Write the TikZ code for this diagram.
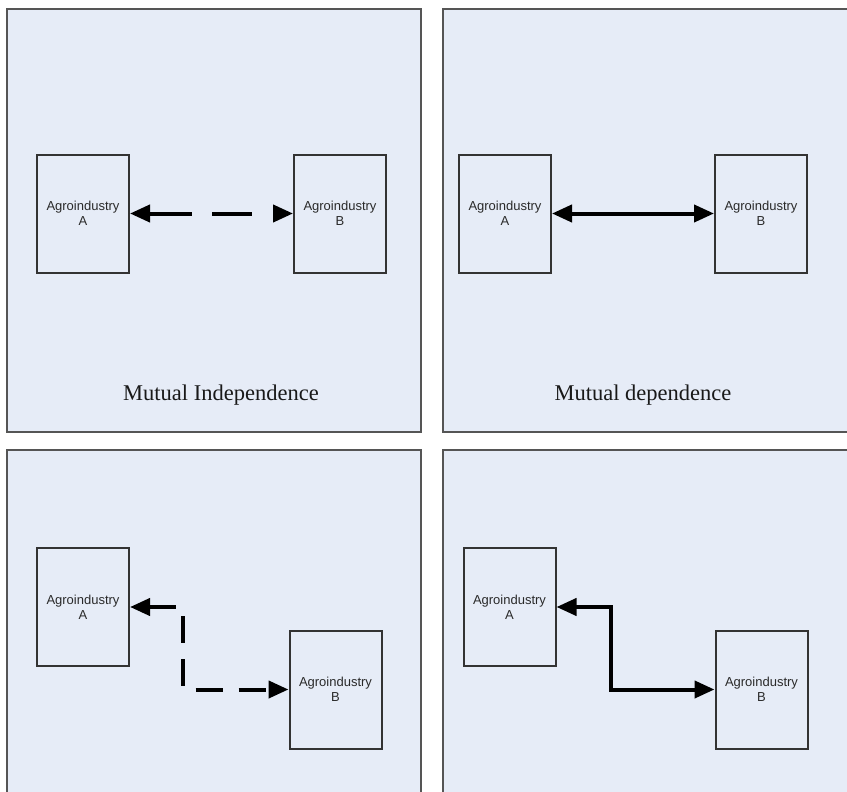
\documentclass[tikz,border=0pt]{standalone}
\usepackage{fontspec}
\setmainfont{Liberation Serif}
\newfontfamily\boxfont{Liberation Sans}
\usetikzlibrary{arrows.meta}
\definecolor{panelfill}{HTML}{E6ECF7}
\definecolor{panelline}{HTML}{555555}
\definecolor{boxline}{HTML}{333333}
\definecolor{boxtext}{HTML}{2A2A2A}
\tikzset{
  panel/.style={draw=panelline, line width=1.6pt, fill=panelfill},
  agbox/.style={draw=boxline, line width=2pt, rectangle, minimum width=92pt, minimum height=118pt,
    inner sep=0pt, align=center, text=boxtext, font=\boxfont\fontsize{13}{15}\selectfont},
  link/.style={line width=4pt, black, {Triangle[length=20pt,width=17pt]}-{Triangle[length=20pt,width=17pt]}},
  caption/.style={font=\fontsize{22.5}{27}\selectfont, text=black!90}
}
\begin{document}
\begin{tikzpicture}[x=1pt,y=-1pt]
\clip (0,0) rectangle (847,792);
\fill[white] (0,0) rectangle (847,792);
% panels
\draw[panel] (7,9) rectangle (421,432);
\draw[panel] (443,9) rectangle (870,432);
\draw[panel] (7,450) rectangle (421,810);
\draw[panel] (443,450) rectangle (870,810);
% panel 1
\node[agbox] (a1) at (83,213.5) {Agroindustry\\A};
\node[agbox] (b1) at (340,213.5) {Agroindustry\\B};
\draw[link, dash pattern=on 43pt off 20pt on 40pt off 30pt] (a1.east) -- (b1.west);
\node[caption] (c1) at (221,395) {Mutual Independence};
% panel 2
\node[agbox] (a2) at (505,213.5) {Agroindustry\\A};
\node[agbox] (b2) at (761,213.5) {Agroindustry\\B};
\draw[link] (a2.east) -- (b2.west);
\node[caption] (c2) at (643,395) {Mutual dependence};
% panel 3
\node[agbox] (a3) at (83,607) {Agroindustry\\A};
\node[agbox] (b3) at (335.5,689.5) {Agroindustry\\B};
\draw[link, dash pattern=on 27pt off 16pt] (a3.east) -- (183,607) -- (183,689.5) -- (b3.west);
% panel 4
\node[agbox] (a4) at (509.5,607) {Agroindustry\\A};
\node[agbox] (b4) at (761.5,689.5) {Agroindustry\\B};
\draw[link] (a4.east) -- (611,607) -- (611,689.5) -- (b4.west);
\end{tikzpicture}
\end{document}
